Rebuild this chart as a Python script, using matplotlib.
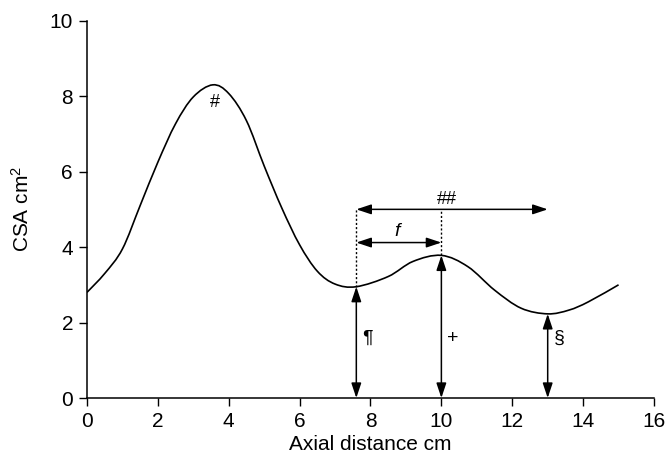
import matplotlib
matplotlib.use("Agg")
import matplotlib.pyplot as plt
from matplotlib.path import Path
from matplotlib.patches import PathPatch

plt.rcParams['font.family'] = ['Liberation Sans', 'DejaVu Sans']
plt.rcParams['mathtext.default'] = 'regular'

# CSA profile
axial_cm = [0, 0.5, 1.0, 1.5, 2.0, 2.5, 3.0, 3.55, 4.0, 4.5, 5.0, 5.5, 6.0,
            6.5, 7.0, 7.6, 8.5, 9.2, 10.0, 10.75, 11.5, 12.25, 13.0, 13.6,
            14.15, 15.0]
csa_cm2 = [2.8, 3.3, 3.95, 5.1, 6.25, 7.27, 7.98, 8.3, 8.07, 7.35, 6.15, 5.03,
           4.06, 3.36, 3.02, 2.95, 3.22, 3.62, 3.78, 3.48, 2.86, 2.38, 2.23,
           2.33, 2.55, 3.0]

# vertical markers: position, height, symbol
marker_x = [7.6, 10.0, 13.0]
marker_h = [2.95, 3.78, 2.23]
marker_sym = ['¶', '+', '§']


def smooth_path(xs, ys):
    # catmull-rom through the read points, drawn as bezier segments
    pts = list(zip(xs, ys))
    verts = [pts[0]]
    codes = [Path.MOVETO]
    for i in range(len(pts) - 1):
        p0 = pts[i - 1] if i > 0 else pts[i]
        p1 = pts[i]
        p2 = pts[i + 1]
        p3 = pts[i + 2] if i + 2 < len(pts) else pts[i + 1]
        c1 = (p1[0] + (p2[0] - p0[0]) / 6, p1[1] + (p2[1] - p0[1]) / 6)
        c2 = (p2[0] - (p3[0] - p1[0]) / 6, p2[1] - (p3[1] - p1[1]) / 6)
        verts += [c1, c2, p2]
        codes += [Path.CURVE4] * 3
    return Path(verts, codes)


fig = plt.figure(figsize=(6.66, 4.53), dpi=100)
ax = fig.add_axes([0.1306, 0.1214, 0.8514, 0.8329])

ax.add_patch(PathPatch(smooth_path(axial_cm, csa_cm2), fc='none', ec='black', lw=1.2))

arrow = dict(arrowstyle='<|-|>,head_length=0.6,head_width=0.2', color='black',
             lw=1.1, shrinkA=0, shrinkB=0, mutation_scale=15)

for xm, hm, s in zip(marker_x, marker_h, marker_sym):
    ax.annotate('', xy=(xm, 0), xytext=(xm, hm), arrowprops=arrow)
    ax.text(xm + 0.32, 1.58, s, fontsize=14, ha='center', va='center')

# dotted guides up to the span arrows
ax.plot([7.6, 7.6], [2.95, 5.0], color='black', lw=1, ls=(0, (1.5, 1.5)))
ax.plot([10.0, 10.0], [3.78, 5.0], color='black', lw=1, ls=(0, (1.5, 1.5)))

ax.annotate('', xy=(7.6, 5.0), xytext=(13.0, 5.0), arrowprops=arrow)
ax.annotate('', xy=(7.6, 4.12), xytext=(10.0, 4.12), arrowprops=arrow)
ax.text(10.15, 5.27, '##', fontsize=13, ha='center', va='center')
ax.text(8.74, 4.42, 'f', fontsize=14, style='italic', ha='center', va='center')
ax.text(3.6, 7.82, '#', fontsize=13, ha='center', va='center')

ax.set_xlim(0, 16)
ax.set_ylim(0, 10)
ax.set_xticks(range(0, 17, 2))
ax.set_yticks(range(0, 11, 2))
ax.tick_params(labelsize=15, length=6, width=1, direction='out', pad=4)
ax.spines['top'].set_visible(False)
ax.spines['right'].set_visible(False)
for sp in ['left', 'bottom']:
    ax.spines[sp].set_linewidth(1.1)

ax.set_xlabel('Axial distance cm', fontsize=15, labelpad=3)
ax.set_ylabel('CSA cm$^2$', fontsize=15, labelpad=12)

fig.savefig('out.png', dpi=100)
